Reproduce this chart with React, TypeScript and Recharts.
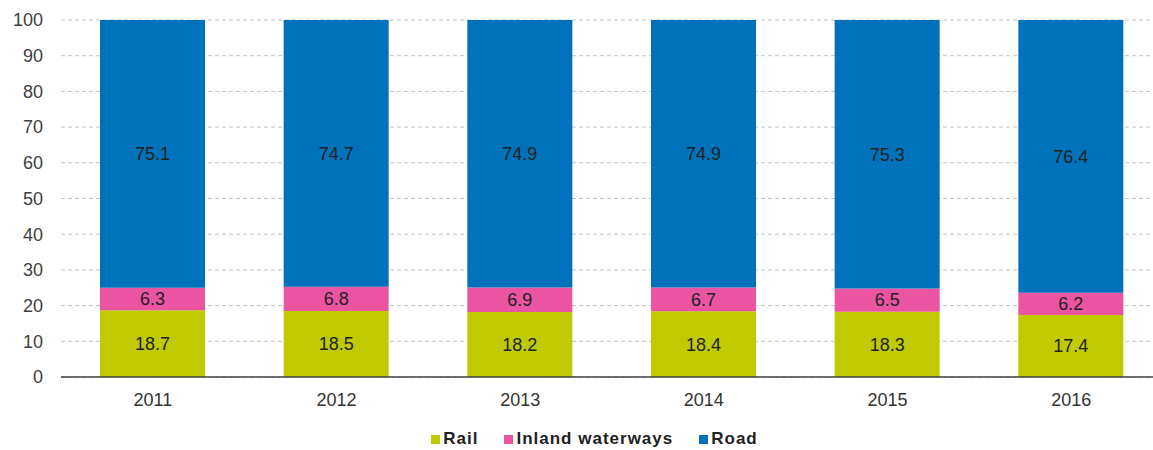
import { BarChart, Bar, XAxis, YAxis, CartesianGrid, Legend, LabelList } from "recharts";

const years = ["2011", "2012", "2013", "2014", "2015", "2016"];
const rail = [18.7, 18.5, 18.2, 18.4, 18.3, 17.4];
const inland = [6.3, 6.8, 6.9, 6.7, 6.5, 6.2];
const road = [75.1, 74.7, 74.9, 74.9, 75.3, 76.4];
const yTicks = [0, 10, 20, 30, 40, 50, 60, 70, 80, 90, 100];

const data = years.map((year, i) => ({
  year,
  rail: rail[i],
  inland: inland[i],
  road: road[i],
}));

const FONT = "'Liberation Sans', Arial, sans-serif";

const series = [
  { key: "rail", name: "Rail", color: "#bfcb00" },
  { key: "inland", name: "Inland waterways", color: "#ea54a0" },
  { key: "road", name: "Road", color: "#0071bb" },
];

function LegendContent() {
  return (
    <div
      style={{
        height: 24,
        boxSizing: "border-box",
        paddingTop: 2,
        display: "flex",
        justifyContent: "center",
        alignItems: "center",
        gap: 26,
        fontFamily: FONT,
        fontSize: 17,
        fontWeight: "bold",
        letterSpacing: 1,
        color: "#222",
        paddingLeft: 25,
      }}
    >
      {series.map((s) => (
        <span key={s.key} style={{ display: "flex", alignItems: "center" }}>
          <span style={{ width: 9, height: 9, background: s.color, marginRight: 3, display: "inline-block" }} />
          {s.name}
        </span>
      ))}
    </div>
  );
}

export default function App() {
  return (
    <div style={{ position: "absolute", left: 0, top: 0, width: 1153, height: 450, overflow: "hidden", background: "#fff" }}>
      <BarChart width={1172} height={450} data={data} margin={{ top: 20, right: 9, left: 1, bottom: 0 }}>
        <CartesianGrid vertical={false} strokeDasharray="4 3" stroke="#c4c4c4" />
        <XAxis
          dataKey="year"
          height={49}
          tickLine={false}
          tickSize={6}
          tickMargin={10}
          axisLine={{ stroke: "#404040", strokeWidth: 1.5 }}
          tick={{ fontSize: 18, fill: "#333", fontFamily: FONT }}
        />
        <YAxis
          width={60}
          domain={[0, 100]}
          ticks={yTicks}
          allowDataOverflow
          axisLine={false}
          tickLine={false}
          tickSize={6}
          tickMargin={12}
          tick={{ fontSize: 18, fill: "#404040", fontFamily: FONT }}
        />
        <Legend verticalAlign="bottom" content={() => <LegendContent />} />
        {series.map((s) => (
          <Bar key={s.key} dataKey={s.key} name={s.name} stackId="a" fill={s.color} barSize={105} isAnimationActive={false}>
            <LabelList dataKey={s.key} position="center" fill="#222" fontSize={18} fontFamily={FONT} />
          </Bar>
        ))}
      </BarChart>
    </div>
  );
}
